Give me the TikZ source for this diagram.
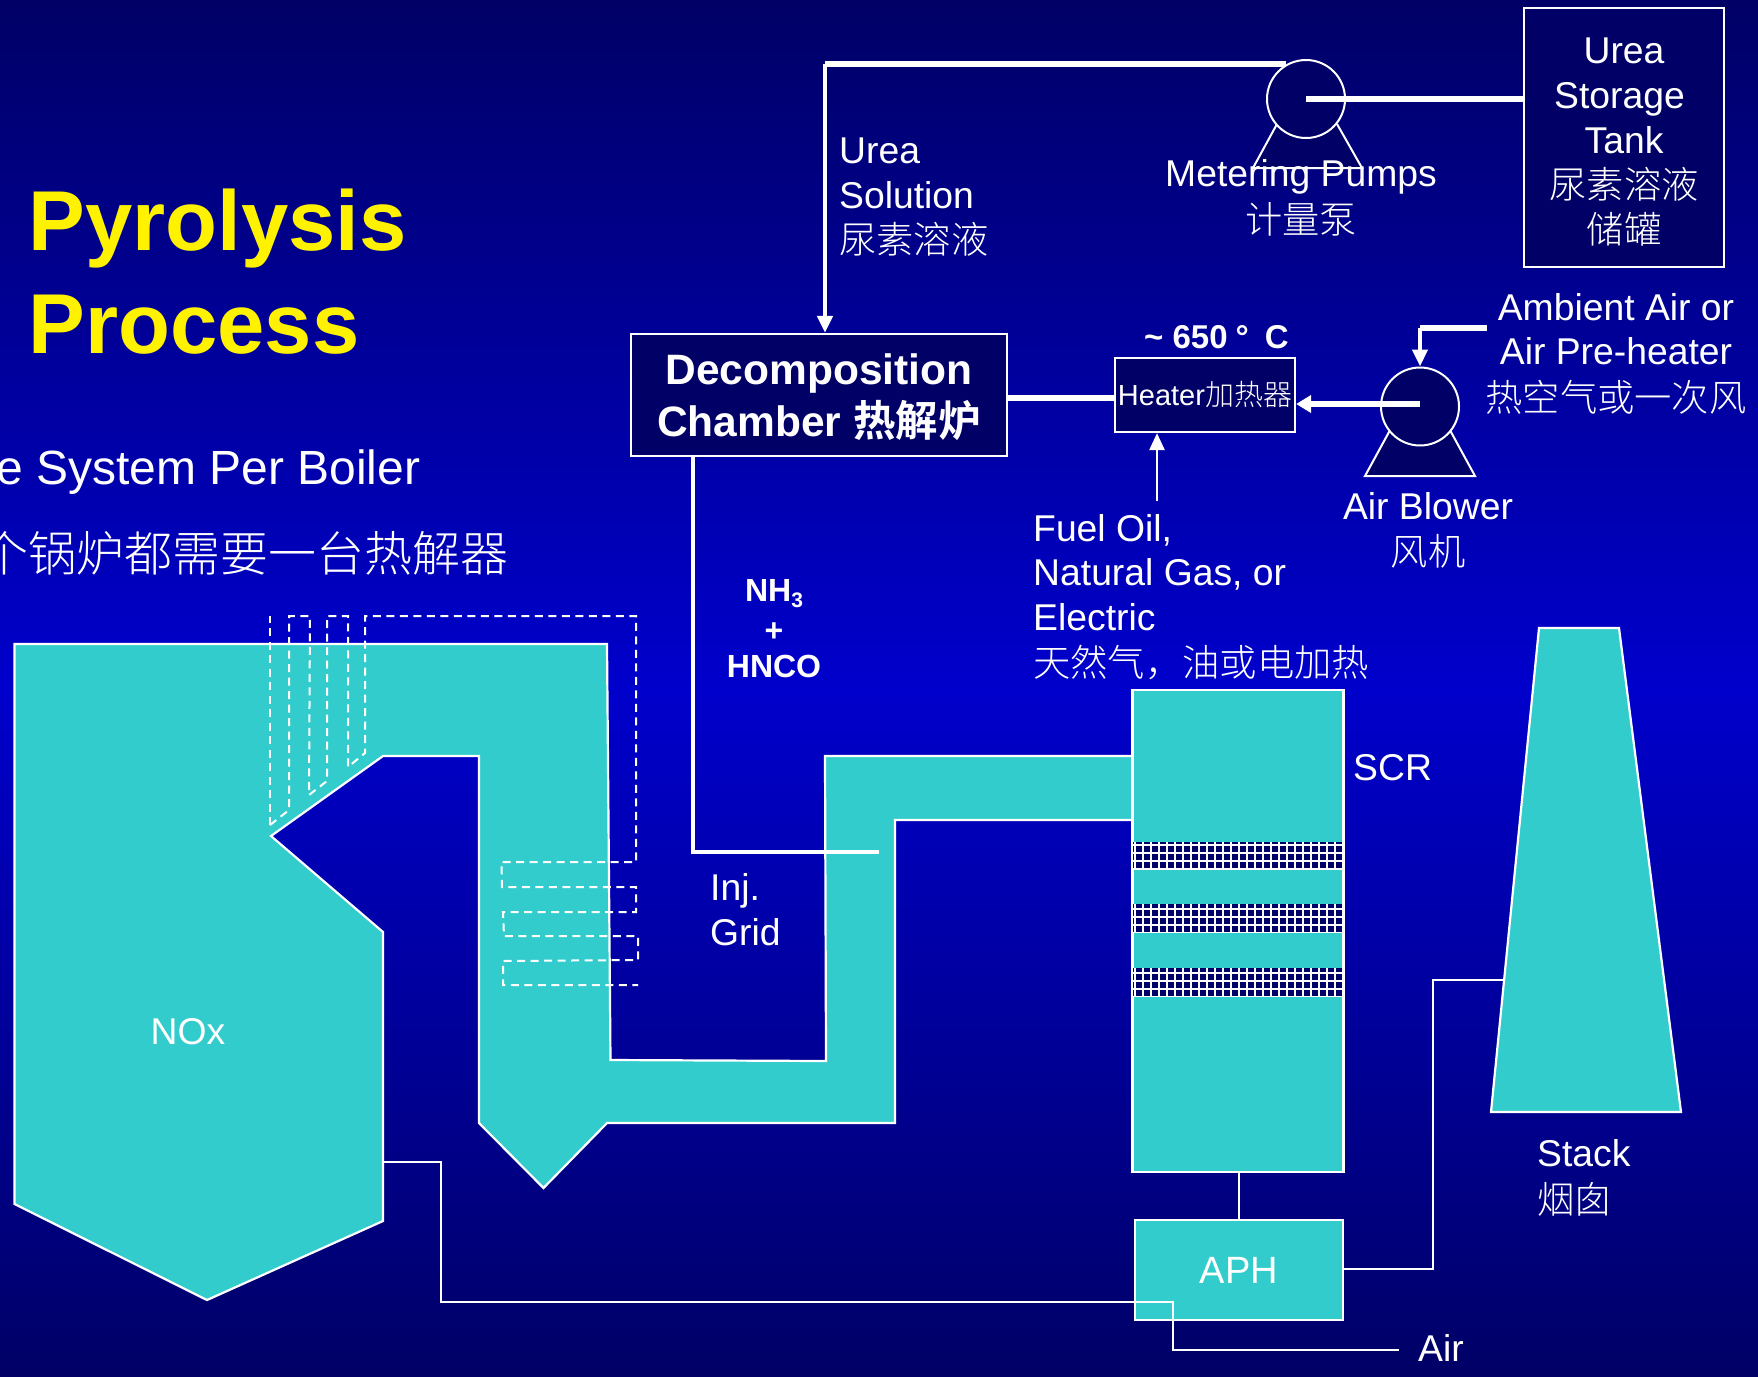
\documentclass[tikz,border=0pt]{standalone}
\usepackage{fontspec}
\usetikzlibrary{arrows.meta}
\setmainfont{Liberation Sans}
\newfontfamily\cjk{Noto Sans CJK SC Light}[BoldFont={Noto Sans CJK SC Bold}]
\newcommand\cj[1]{{\cjk #1}}
\definecolor{bgdark}{HTML}{000066}
\definecolor{bgmid}{HTML}{0000CC}
\definecolor{tealfill}{HTML}{33CCCC}
\definecolor{boxnavy}{HTML}{000066}
\tikzset{
  lbl/.style={text=white,inner sep=0pt,font=\fontsize{37.3}{45}\selectfont,anchor=base west},
  lblc/.style={lbl,anchor=base,align=center},
  navybox/.style={draw=white,line width=2.2pt,fill=boxnavy,inner sep=0pt,text=white,align=center},
  tealbox/.style={draw=white,line width=2.2pt,fill=tealfill,inner sep=0pt,text=white,align=center},
  tealshape/.style={draw=white,line width=2.2pt,fill=tealfill},
  pumpc/.style={circle,draw=white,line width=2pt,fill=boxnavy,minimum size=78pt,inner sep=0pt},
  pumpbase/.style={draw=white,line width=2pt,fill=boxnavy,line join=miter},
  thickpipe/.style={draw=white,line width=6pt},
  medpipe/.style={draw=white,line width=4.5pt},
  thinpipe/.style={draw=white,line width=2.5pt},
  arrowtip/.style={-{Triangle[length=17pt,width=15pt]}},
  dashedpipe/.style={draw=white,line width=2pt,dash pattern=on 8pt off 5.5pt},
}
\begin{document}
\begin{tikzpicture}[x=1pt,y=-1pt]
\useasboundingbox (0,0) rectangle (1758,1376);
\clip (0,0) rectangle (1758,1376);
\shade[top color=bgdark,bottom color=bgdark,middle color=bgmid] (0,0) rectangle (1758,1376);

% title and side text
\node[lbl,text=yellow,font=\fontsize{85}{100}\selectfont\bfseries] (title1) at (28.5,250) {Pyrolysis};
\node[lbl,text=yellow,font=\fontsize{85}{100}\selectfont\bfseries] (title2) at (28.5,353) {Process};
\node[lbl,font=\fontsize{48}{58}\selectfont] (side1) at (-4,484) {e System Per Boiler};
\node[lbl,font=\fontsize{48}{58}\selectfont] (side2) at (-20,571) {\cj{个锅炉都需要一台热解器}};

% boiler and flue
\path[tealshape] (14.5,644) -- (607,644) -- (610.5,1060) -- (826,1061) -- (825,756) -- (1133,756)
  -- (1133,820) -- (895,820) -- (895,1123) -- (607,1123) -- (543.5,1188) -- (479,1123) -- (479,756)
  -- (383,756) -- (271,836) -- (383,932) -- (383,1221) -- (207,1300) -- (14.5,1204) -- cycle;
\node[lblc] (nox) at (188,1044) {NOx};

% injection lances
\draw[dashedpipe] (270,825) -- (270,616);
\draw[dashedpipe] (270,825) -- (289,810) -- (289,616) -- (310,616) -- (309,795) -- (327,781) -- (327,616)
  -- (348,616) -- (348,767) -- (365,753) -- (365,616) -- (636,616) -- (636,862) -- (501.5,862) -- (502,887)
  -- (636,887) -- (636,912) -- (503,912) -- (504,936) -- (638,936) -- (638,960) -- (503,961) -- (503,985) -- (638,985);

% SCR
\node[tealbox,minimum width=210pt,minimum height=482pt] (scr) at (1238,931) {};
\foreach \ya/\yb/\yo in {842/869/845,904/932/908.7,968/996/972.7}{
  \begin{scope}
    \clip (1133,\ya) rectangle (1343,\yb);
    \fill[boxnavy] (1133,\ya) rectangle (1343,\yb);
    \foreach \k in {0,1,2,3}{\draw[white,line width=2.3pt] (1133,\yo+8*\k) -- (1343,\yo+8*\k);}
    \foreach \k in {0,...,26}{\draw[white,line width=2.3pt] (1135+8*\k,\ya) -- (1135+8*\k,\yb);}
  \end{scope}
}
\draw[white,line width=2.2pt] (scr.north west) -- (scr.south west) (scr.north east) -- (scr.south east);
\node[lbl] (scrl) at (1353,780) {SCR};

% APH
\node[tealbox,font=\fontsize{38}{45}\selectfont,minimum width=208pt,minimum height=100pt] (aph) at (1239,1270) {APH};
\draw[thinpipe] (aph.north |- scr.south) -- (aph.north);

% stack
\path[tealshape] (1539,628) -- (1619,628) -- (1681,1112) -- (1491,1112) -- cycle;
\coordinate (stackin) at (1504,980);
\coordinate (aphup) at (1433,1269);
\draw[thinpipe] (aph.east |- aphup) -- (aphup) -- (aphup |- stackin) -- (stackin);
\node[lbl] (stack1) at (1537,1166) {Stack};
\node[lbl] (stack2) at (1537,1213) {\cj{烟囱}};

% air line
\coordinate (boilerout) at (383,1162);
\coordinate (c1) at (441,1302);
\coordinate (c2) at (1173,1350);
\coordinate (airend) at (1399,1350);
\draw[thinpipe] (boilerout) -- (boilerout -| c1) -- (c1) -- (c1 -| c2) -- (c2) -- (airend);
\node[lbl] (air) at (1418,1361) {Air};

% chamber
\node[navybox,font=\fontsize{42.5}{52}\selectfont\bfseries,minimum width=376pt,minimum height=122pt] (chamber) at (819,395) {\rule{0pt}{36pt}Decomposition\\Chamber \cj{热解炉}};

% heater
\node[navybox,font=\fontsize{29}{35}\selectfont,minimum width=180pt,minimum height=74pt] (heater) at (1205,395) {Heater\cj{加热器}};
\node[lbl,font=\fontsize{33}{40}\selectfont\bfseries] (temp) at (1144,348) {\textasciitilde{} 650\hspace{8pt}°\hspace{16pt}C};

% tank
\node[navybox,font=\fontsize{37.3}{45}\selectfont,minimum width=200pt,minimum height=259pt] (tank) at (1624,137.5) {\rule{0pt}{35pt}Urea\\\hspace*{-9pt}Storage\\Tank\\\cj{尿素溶液}\\\cj{储罐}};

% metering pump
\path[pumpbase] (1277,124) -- (1253,168) -- (1362,168) -- (1337,124);
\node[pumpc] (pump) at (1306,99) {};
\node[lblc] (pumpl1) at (1301,186) {Metering Pumps};
\node[lblc] (pumpl2) at (1301,233) {\cj{计量泵}};
\draw[thickpipe] (pump.center) -- (pump.center -| tank.west);
\coordinate (corner) at (825,64);
\draw[thickpipe] (pump.120 |- corner) -- (corner);
\draw[medpipe,arrowtip] (corner) -- (corner |- chamber.north);
\node[lbl] (urea1) at (839,163) {Urea};
\node[lbl] (urea2) at (839,208) {Solution};
\node[lbl] (urea3) at (839,253) {\cj{尿素溶液}};

% blower
\path[pumpbase] (1389,432) -- (1365,476) -- (1475,476) -- (1451,432) -- cycle;
\node[pumpc] (blower) at (1420,406.5) {};
\draw[thickpipe,-{Triangle[length=15pt,width=17pt]}] (blower.center |- 0,404) -- (heater.east |- 0,404);
\draw[thickpipe] (chamber.east |- 0,398) -- (heater.west |- 0,398);
\coordinate (ambient) at (1487,328);
\draw[thickpipe] (ambient) -- (blower.center |- ambient);
\draw[medpipe,arrowtip] (blower.center |- ambient) -- (blower.north);
\node[lblc] (amb1) at (1616,320) {Ambient Air or};
\node[lblc] (amb2) at (1616,364) {Air Pre-heater};
\node[lblc] (amb3) at (1616,411) {\cj{热空气或一次风}};
\node[lblc] (bl1) at (1428,519) {Air Blower};
\node[lblc] (bl2) at (1428,565) {\cj{风机}};

% fuel
\coordinate (fuelend) at (1157,501);
\draw[thinpipe,arrowtip] (fuelend) -- (fuelend |- heater.south);
\node[lbl] (f1) at (1033,541) {Fuel Oil,};
\node[lbl] (f2) at (1033,585) {Natural Gas, or};
\node[lbl] (f3) at (1033,630) {Electric};
\node[lbl] (f4) at (1033,676) {\cj{天然气，油或电加热}};

% NH3 line
\coordinate (downtop) at (693,456);
\coordinate (gridend) at (879,852);
\draw[medpipe] (chamber.south -| downtop) -- (downtop |- gridend) -- (gridend);
\node[lblc,font=\fontsize{32}{38}\selectfont\bfseries] (nh) at (774,601) {NH\raisebox{-0.2em}{\fontsize{21}{25}\selectfont 3}};
\node[lblc,font=\fontsize{32}{38}\selectfont\bfseries] (plus) at (774,641) {+};
\node[lblc,font=\fontsize{32}{38}\selectfont\bfseries] (hnco) at (774,677) {HNCO};
\node[lbl] (inj1) at (710,900) {Inj.};
\node[lbl] (inj2) at (710,945) {Grid};
\end{tikzpicture}
\end{document}
